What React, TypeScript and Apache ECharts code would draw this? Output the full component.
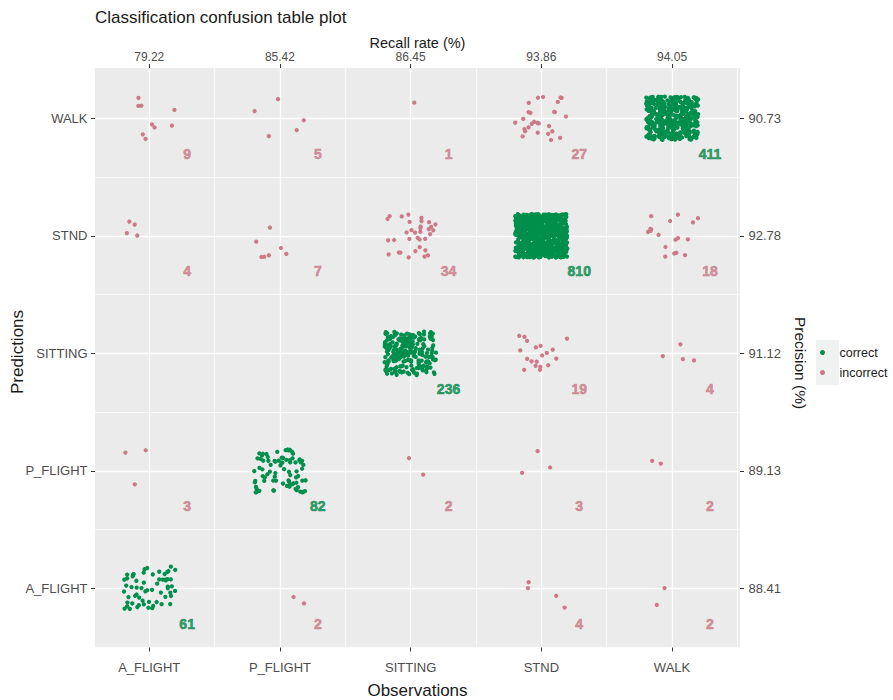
import React, { useEffect, useRef } from "react";
import * as echarts from "echarts";

// Categories (index 1..5 on both axes; predictions listed bottom to top)
const observations = ["A_FLIGHT", "P_FLIGHT", "SITTING", "STND", "WALK"];
const predictions = ["A_FLIGHT", "P_FLIGHT", "SITTING", "STND", "WALK"];

// Tick labels
const recallLabels = ["79.22", "85.42", "86.45", "93.86", "94.05"];
const precisionLabels = ["88.41", "89.13", "91.12", "92.78", "90.73"];

// Confusion counts: one row per prediction, values per observation
const countsAFlight = [61, 2, 0, 4, 2];
const countsPFlight = [3, 82, 2, 3, 2];
const countsSitting = [0, 0, 236, 19, 4];
const countsStnd = [4, 7, 34, 810, 18];
const countsWalk = [9, 5, 1, 27, 411];
const countRows = [countsAFlight, countsPFlight, countsSitting, countsStnd, countsWalk];

const GREEN = "#008F4C";
const PINK = "#CC7A88";
const FONT = "Liberation Sans, Arial, sans-serif";

// deterministic jitter generator (presentation only)
function makeJitter(seed: number) {
  let a = seed >>> 0;
  return () => {
    a = (a + 0x6d2b79f5) >>> 0;
    let t = a;
    t = Math.imul(t ^ (t >>> 15), t | 1);
    t ^= t + Math.imul(t ^ (t >>> 7), t | 61);
    return ((t ^ (t >>> 14)) >>> 0) / 4294967296;
  };
}

export default function App() {
  const ref = useRef<HTMLDivElement>(null);
  useEffect(() => {
    if (!ref.current) return;
    const chart = echarts.init(ref.current, null, { renderer: "svg" });

    const correctPts: number[][] = [];
    const incorrectPts: number[][] = [];
    const correctLabels: any[] = [];
    const incorrectLabels: any[] = [];
    countRows.forEach((row, pi) => {
      row.forEach((n, oi) => {
        const x = oi + 1;
        const y = pi + 1;
        const rnd = makeJitter(1000 + pi * 17 + oi * 131);
        const target = pi === oi ? correctPts : incorrectPts;
        for (let k = 0; k < n; k++) {
          target.push([x + (rnd() * 2 - 1) * 0.2, y + (rnd() * 2 - 1) * 0.185]);
        }
        if (n > 0) {
          (pi === oi ? correctLabels : incorrectLabels).push({ value: [x + 0.29, y - 0.3, n] });
        }
      });
    });

    const ticks = observations.map((_, i) => i + 1);
    const gridLines: any[] = [];
    [1, 2, 3, 4, 5].forEach((v) => gridLines.push({ xAxis: v, lineStyle: { color: "#fff", width: 1.4, type: "solid" } }));
    [1.5, 2.5, 3.5, 4.5, 5.5].forEach((v) => gridLines.push({ xAxis: v, lineStyle: { color: "#fff", width: 0.7, type: "solid" } }));
    [1, 2, 3, 4, 5].forEach((v) => gridLines.push({ yAxis: v, lineStyle: { color: "#fff", width: 1.4, type: "solid" } }));
    [0.5, 1.5, 2.5, 3.5, 4.5].forEach((v) => gridLines.push({ yAxis: v, lineStyle: { color: "#fff", width: 0.7, type: "solid" } }));

    const tickStyle = { show: true, length: 4, lineStyle: { color: "#333", width: 1 } };
    const xMin = 0.585, xMax = 5.52, yMin = 0.496, yMax = 5.428;

    const labelStyle = (color: string, border: string) => ({
      show: true,
      position: "inside",
      formatter: (p: any) => String(p.value[2]),
      color,
      fontSize: 14,
      fontWeight: "bold",
      fontFamily: FONT,
      textBorderColor: border,
      textBorderWidth: 0.6,
    });

    chart.setOption({
      animation: false,
      backgroundColor: "#fff",
      textStyle: { fontFamily: FONT },
      grid: {
        left: 95, right: 153, top: 68, bottom: 52.5,
        show: true, backgroundColor: "#EBEBEB", borderWidth: 0,
      },
      legend: {
        data: ["correct", "incorrect"],
        orient: "vertical",
        left: 815, top: 341,
        itemWidth: 24, itemHeight: 5, itemGap: 7,
        icon: "circle",
        textStyle: { fontSize: 12.5, color: "#1a1a1a", fontFamily: FONT },
        selectedMode: false,
      },
      xAxis: [
        {
          type: "value", position: "bottom", min: xMin, max: xMax,
          axisLine: { show: false }, splitLine: { show: false },
          axisTick: { ...tickStyle, customValues: ticks },
          axisLabel: {
            customValues: ticks, margin: 13, fontSize: 13, color: "#4D4D4D", fontFamily: FONT,
            formatter: (v: number) => observations[Math.round(v) - 1] ?? "",
          },
        },
        {
          type: "value", position: "top", min: xMin, max: xMax,
          axisLine: { show: false }, splitLine: { show: false },
          axisTick: { ...tickStyle, customValues: ticks },
          axisLabel: {
            customValues: ticks, margin: 5, fontSize: 12, color: "#4D4D4D", fontFamily: FONT,
            formatter: (v: number) => recallLabels[Math.round(v) - 1] ?? "",
          },
        },
      ],
      yAxis: [
        {
          type: "value", position: "left", min: yMin, max: yMax,
          axisLine: { show: false }, splitLine: { show: false },
          axisTick: { ...tickStyle, customValues: ticks },
          axisLabel: {
            customValues: ticks, margin: 7.5, fontSize: 13, color: "#4D4D4D", fontFamily: FONT,
            formatter: (v: number) => predictions[Math.round(v) - 1] ?? "",
          },
        },
        {
          type: "value", position: "right", min: yMin, max: yMax,
          axisLine: { show: false }, splitLine: { show: false },
          axisTick: { ...tickStyle, customValues: ticks },
          axisLabel: {
            customValues: ticks, margin: 8.5, fontSize: 13, color: "#4D4D4D", fontFamily: FONT,
            formatter: (v: number) => precisionLabels[Math.round(v) - 1] ?? "",
          },
        },
      ],
      series: [
        {
          type: "scatter", name: "grid", data: [], z: 0, silent: true,
          markLine: { silent: true, z: 0, symbol: ["none", "none"], label: { show: false }, data: gridLines, animation: false },
        },
        {
          type: "scatter", name: "incorrect", data: incorrectPts, symbolSize: 4.3, z: 2,
          itemStyle: { color: PINK, opacity: 1 }, silent: true,
        },
        {
          type: "scatter", name: "correct", data: correctPts, symbolSize: 4.3, z: 3,
          itemStyle: { color: GREEN, opacity: 1 }, silent: true,
        },
        {
          type: "scatter", name: "incorrectLabels", data: incorrectLabels, symbolSize: 0, z: 4, silent: true,
          label: labelStyle(PINK, "#C47482"),
        },
        {
          type: "scatter", name: "correctLabels", data: correctLabels, symbolSize: 0, z: 5, silent: true,
          label: labelStyle(GREEN, "#006B38"),
        },
      ],
      graphic: [
        { type: "rect", z: -1, shape: { x: 816, y: 340, width: 23, height: 45 }, style: { fill: "#F0F1F1" } },
        {
          type: "text", x: 95, y: 17, style: {
            text: "Classification confusion table plot", fontSize: 17, fill: "#1a1a1a",
            fontFamily: FONT, align: "left", verticalAlign: "middle",
          },
        },
        {
          type: "text", x: 417.5, y: 42.5, style: {
            text: "Recall rate (%)", fontSize: 14.5, fill: "#1a1a1a",
            fontFamily: FONT, align: "center", verticalAlign: "middle",
          },
        },
        {
          type: "text", x: 417.5, y: 690, style: {
            text: "Observations", fontSize: 17, fill: "#1a1a1a",
            fontFamily: FONT, align: "center", verticalAlign: "middle",
          },
        },
        {
          type: "text", x: 17, y: 352, rotation: Math.PI / 2, style: {
            text: "Predictions", fontSize: 17, fill: "#1a1a1a",
            fontFamily: FONT, align: "center", verticalAlign: "middle",
          },
        },
        {
          type: "text", x: 800, y: 363, rotation: -Math.PI / 2, style: {
            text: "Precision (%)", fontSize: 15.5, fill: "#1a1a1a",
            fontFamily: FONT, align: "center", verticalAlign: "middle",
          },
        },
      ],
    });
    return () => chart.dispose();
  }, []);
  return (
    <div
      ref={ref}
      style={{ position: "fixed", left: 0, top: 0, width: 893, height: 700 }}
    />
  );
}
